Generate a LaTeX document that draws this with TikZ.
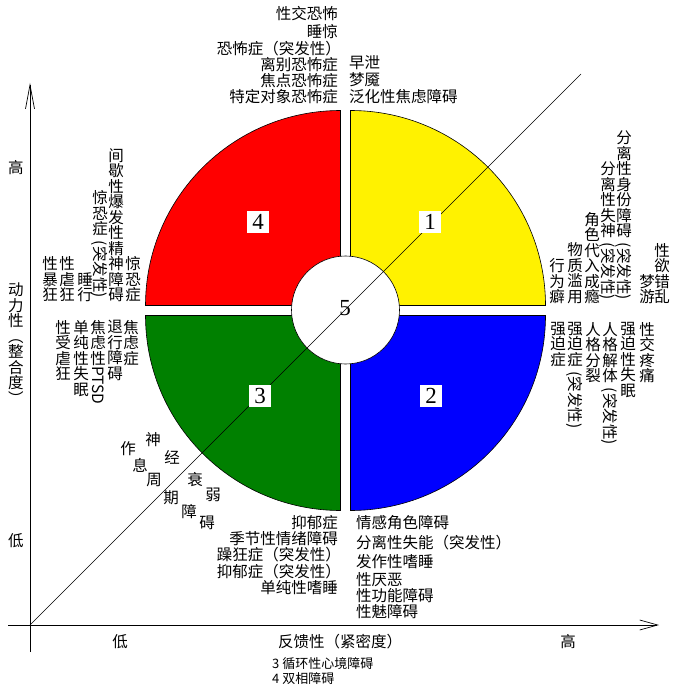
\documentclass[tikz,border=0pt]{standalone}
\usepackage{fontspec}
\usepackage{graphicx}
\setmainfont{Noto Sans CJK SC}
\newfontfamily\numfont{Liberation Serif}
\usetikzlibrary{arrows.meta}
\newcommand\heng[1]{\rotatebox[origin=c]{-90}{\kern4pt#1\kern4pt}}

\begin{document}
\begin{tikzpicture}[x=1pt, y=1pt, yscale=-1,
	zh/.style={inner sep=0pt, font=\fontsize{15.5}{17}\selectfont},
	shu/.style={inner sep=0pt, align=center, font=\fontsize{15.5}{15.5}\selectfont},
	quad/.style={draw=black, line width=0.6pt},
	hao/.style={fill=white, inner xsep=5pt, inner ysep=3pt, font=\numfont\fontsize{23}{23}\selectfont},
	axis/.style={line width=0.7pt}]
	\useasboundingbox (0,0) rectangle (674,692);
	
	% axes
	\coordinate (o) at (30,625);
	\coordinate (yb) at (30,652);
	\coordinate (yt) at (30,83);
	\coordinate (xl) at (8,625);
	\coordinate (xr) at (659,625);
	\coordinate (dg) at (581,74);
	\draw[axis, -{Straight Barb[length=24pt,width=9pt]}] (yb) -- (yt);
	\draw[axis, -{Straight Barb[length=18pt,width=10pt]}] (xl) -- (xr);
	
	% four quadrants and the centre
	\filldraw[quad, fill=yellow] (350.5,305.5) -- ++(0,-195) arc[start angle=-90, end angle=0, radius=195] -- cycle;
	\filldraw[quad, fill=blue] (350.5,315.5) -- ++(195,0) arc[start angle=0, end angle=90, radius=195] -- cycle;
	\filldraw[quad, fill={rgb,255:red,0;green,128;blue,0}] (340.5,315.5) -- ++(0,195) arc[start angle=90, end angle=180, radius=195] -- cycle;
	\filldraw[quad, fill=red] (340.5,305.5) -- ++(-195,0) arc[start angle=180, end angle=270, radius=195] -- cycle;
	\coordinate (c) at (345.5,310);
	\filldraw[quad, fill=white] (c) circle[radius=54];
	\draw (o) -- (dg);
	
	\node[hao] (n1) at (430,222) {1};
	\node[hao] (n2) at (431,396) {2};
	\node[hao] (n3) at (260,396) {3};
	\node[hao] (n4) at (258,222) {4};
	\node[inner sep=0pt, font=\numfont\fontsize{23}{23}\selectfont] (n5) at (345,308) {5};
	
	% top
	\node[zh, anchor=east] (k1) at (338,14) {性交恐怖};
	\node[zh, anchor=east] (k2) at (338,32) {睡惊};
	\node[zh, anchor=east] (k3) at (341,49) {恐怖症（突发性）};
	\node[zh, anchor=east] (k4) at (338,65) {离别恐怖症};
	\node[zh, anchor=east] (k5) at (338,81) {焦点恐怖症};
	\node[zh, anchor=east] (k6) at (338,97) {特定对象恐怖症};
	\node[zh, anchor=west] (j1) at (349,63) {早泄};
	\node[zh, anchor=west] (j2) at (349,80) {梦魇};
	\node[zh, anchor=west] (j3) at (349,97) {泛化性焦虑障碍};
	
	% right
	\node[shu, anchor=south] (r1) at (557,304) {行\\为\\癖};
	\node[shu, anchor=south] (r2) at (575,304) {物\\质\\滥\\用};
	\node[shu, anchor=south] (r3) at (592,304) {角\\色\\代\\入\\成\\瘾};
	\node[shu, anchor=south] (r4) at (608,304) {分\\离\\性\\失\\神\\\heng{(突发性)}};
	\node[shu, anchor=south] (r5) at (624,304) {分\\离\\性\\身\\份\\障\\碍\\\heng{(突发性)}};
	\node[shu, anchor=south] (r6) at (647,304) {梦\\游};
	\node[shu, anchor=south] (r7) at (662,304) {性\\欲\\错\\乱};
	
	\node[shu, anchor=north] (q1) at (558,322) {强\\迫\\症};
	\node[shu, anchor=north] (q2) at (575,322) {强\\迫\\症\\\heng{(突发性)}};
	\node[shu, anchor=north] (q3) at (593,322) {人\\格\\分\\裂};
	\node[shu, anchor=north] (q4) at (610,322) {人\\格\\解\\体\\\heng{(突发性)}};
	\node[shu, anchor=north] (q5) at (628,322) {强\\迫\\性\\失\\眠};
	\node[shu, anchor=north] (q6) at (647,322) {性\\交\\疼\\痛};
	
	% left
	\node[shu, anchor=south] (l1) at (50,302) {性\\暴\\狂};
	\node[shu, anchor=south] (l2) at (67,302) {性\\虐\\狂};
	\node[shu, anchor=south] (l3) at (85,302) {睡\\行};
	\node[shu, anchor=south] (l4) at (100,302) {惊\\恐\\症\\\heng{(突发性)}};
	\node[shu, anchor=south] (l5) at (116,302) {间\\歇\\性\\爆\\发\\性\\精\\神\\障\\碍};
	\node[shu, anchor=south] (l6) at (133,302) {惊\\恐\\症};
	
	\node[shu, anchor=north] (m1) at (63,320) {性\\受\\虐\\狂};
	\node[shu, anchor=north] (m2) at (81,320) {单\\纯\\性\\失\\眠};
	\node[shu, anchor=north] (m3) at (98,320) {焦\\虑\\性\\\rotatebox[origin=c]{-90}{PTSD}};
	\node[shu, anchor=north] (m4) at (115,320) {退\\行\\障\\碍};
	\node[shu, anchor=north] (m5) at (131,320) {焦\\虑\\症};
	
	% diagonal
	\node[zh] (s1) at (153,440) {神};
	\node[zh] (s2) at (172,457) {经};
	\node[zh] (s3) at (195,480) {衰};
	\node[zh] (s4) at (213,495) {弱};
	\node[zh] (p1) at (128,449) {作};
	\node[zh] (p2) at (140,465) {息};
	\node[zh] (p3) at (154,480) {周};
	\node[zh] (p4) at (171,498) {期};
	\node[zh] (p5) at (189,512) {障};
	\node[zh] (p6) at (207,523) {碍};
	
	% bottom
	\node[zh, anchor=east] (y1) at (338,523) {抑郁症};
	\node[zh, anchor=east] (y2) at (338,539) {季节性情绪障碍};
	\node[zh, anchor=east] (y3) at (341,555) {躁狂症（突发性）};
	\node[zh, anchor=east] (y4) at (341,572) {抑郁症（突发性）};
	\node[zh, anchor=east] (y5) at (338,588) {单纯性嗜睡};
	\node[zh, anchor=west] (z1) at (356,523) {情感角色障碍};
	\node[zh, anchor=west] (z2) at (356,543) {分离性失能（突发性）};
	\node[zh, anchor=west] (z3) at (356,562) {发作性嗜睡};
	\node[zh, anchor=west] (z4) at (356,580) {性厌恶};
	\node[zh, anchor=west] (z5) at (356,596) {性功能障碍};
	\node[zh, anchor=west] (z6) at (356,612) {性魅障碍};
	
	% axis labels
	\node[zh] (xlow) at (120,642) {低};
	\node[zh] (xname) at (340,642) {反馈性（紧密度）};
	\node[zh] (xhigh) at (568,642) {高};
	\node[zh] (yhigh) at (16,168) {高};
	\node[zh] (ylow) at (16,541) {低};
	\node[shu, anchor=north] (yname) at (16,283) {动\\力\\性\\︵\\整\\合\\度\\︶};
	\node[zh, anchor=west, font=\fontsize{13}{13}\selectfont] (f1) at (272,664) {3 循环性心境障碍};
	\node[zh, anchor=west, font=\fontsize{13}{13}\selectfont] (f2) at (272,679) {4 双相障碍};
\end{tikzpicture}
\end{document}
